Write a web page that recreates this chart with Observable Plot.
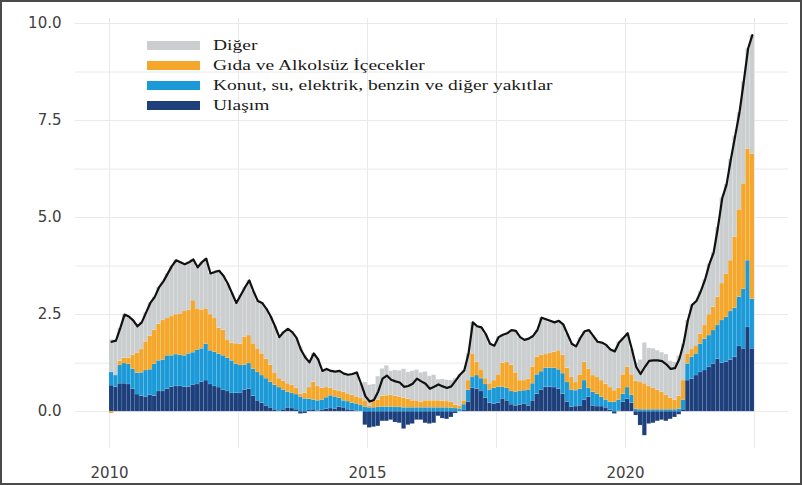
<!DOCTYPE html>
<html>
<head>
<meta charset="utf-8">
<script src="https://cdn.jsdelivr.net/npm/d3@7"></script>
<script src="https://cdn.jsdelivr.net/npm/@observablehq/plot@0.6"></script>
<style>
  html, body { margin: 0; padding: 0; background: #fff; }
  #wrap { position: relative; width: 802px; height: 485px; overflow: hidden; background: #fff; }
  #chart { position: absolute; left: 0; top: 0; }
  #frame { position: absolute; left: 0; top: 0; width: 802px; height: 485px; box-sizing: border-box; border: 2px solid #4a4a4a; pointer-events: none; }
  #legend { position: absolute; left: 147px; top: 35px; font-family: "Liberation Serif", "DejaVu Serif", serif; font-size: 15px; color: #1a1a1a; }
  .row { display: flex; align-items: center; height: 20px; }
  .key { width: 53px; height: 9px; flex: none; }
  .lab { display: inline-block; margin-left: 13px; white-space: nowrap; transform: scaleX(1.3); transform-origin: left center; }
</style>
</head>
<body>
<div id="wrap">
  <div id="chart"></div>
  <div id="legend"></div>
  <div id="frame"></div>
</div>
<script>
// Monthly contributions, Jan 2010 – Jun 2022 (one value per month)
const startYear = 2010;

const ulasim = [
  0.67, 0.63, 0.72, 0.72, 0.70, 0.58, 0.44, 0.40, 0.38, 0.42, 0.40, 0.52,
  0.52, 0.58, 0.63, 0.65, 0.65, 0.63, 0.63, 0.69, 0.70, 0.76, 0.80, 0.70,
  0.65, 0.62, 0.56, 0.52, 0.47, 0.48, 0.47, 0.56, 0.58, 0.40, 0.28, 0.22,
  0.15, 0.10, 0.05, 0.00, 0.05, 0.10, 0.08, 0.05, -0.06, -0.05, 0.03, 0.05,
  0.02, 0.03, 0.07, 0.08, 0.07, 0.12, 0.10, 0.05, 0.03, 0.02, 0.00, -0.35,
  -0.42, -0.40, -0.38, -0.25, -0.25, -0.22, -0.28, -0.30, -0.45, -0.35, -0.32, -0.22,
  -0.22, -0.30, -0.32, -0.30, -0.12, -0.18, -0.20, -0.15, -0.05, 0.00, 0.03, 0.25,
  0.60, 0.58, 0.52, 0.35, 0.22, 0.20, 0.22, 0.33, 0.28, 0.18, 0.15, 0.17,
  0.20, 0.15, 0.28, 0.45, 0.56, 0.63, 0.63, 0.62, 0.58, 0.45, 0.25, 0.12,
  0.13, 0.15, 0.30, 0.37, 0.15, 0.13, 0.13, 0.10, 0.04, -0.06, 0.02, 0.24,
  0.32, 0.22, -0.10, -0.36, -0.62, -0.32, -0.30, -0.25, -0.22, -0.25, -0.20, -0.15,
  -0.08, 0.05, 0.80, 0.84, 0.93, 1.01, 1.06, 1.14, 1.23, 1.35, 1.25, 1.28,
  1.33, 1.40, 1.68, 1.62, 2.17, 1.62
];
const konut = [
  0.34, 0.30, 0.47, 0.52, 0.52, 0.52, 0.55, 0.60, 0.68, 0.66, 0.82, 0.79,
  0.81, 0.86, 0.81, 0.82, 0.80, 0.81, 0.86, 0.83, 0.89, 0.86, 0.94, 0.87,
  0.88, 0.86, 0.88, 0.86, 0.84, 0.74, 0.72, 0.64, 0.66, 0.70, 0.73, 0.71,
  0.70, 0.66, 0.63, 0.62, 0.51, 0.40, 0.39, 0.39, 0.38, 0.33, 0.29, 0.25,
  0.26, 0.27, 0.29, 0.33, 0.31, 0.23, 0.18, 0.21, 0.19, 0.18, 0.16, 0.12,
  0.10, 0.10, 0.11, 0.12, 0.12, 0.12, 0.11, 0.11, 0.10, 0.10, 0.10, 0.10,
  0.10, 0.10, 0.10, 0.10, 0.10, 0.10, 0.10, 0.09, 0.08, 0.07, 0.15, 0.30,
  0.28, 0.35, 0.33, 0.35, 0.34, 0.40, 0.41, 0.30, 0.32, 0.34, 0.35, 0.35,
  0.34, 0.41, 0.44, 0.50, 0.47, 0.49, 0.49, 0.50, 0.50, 0.53, 0.50, 0.44,
  0.41, 0.43, 0.50, 0.23, 0.35, 0.32, 0.24, 0.20, 0.20, 0.24, 0.28, 0.21,
  0.30, 0.20, 0.06, 0.05, 0.05, 0.05, 0.05, 0.05, 0.05, 0.05, 0.05, 0.05,
  0.07, 0.25, 0.43, 0.56, 0.56, 0.73, 0.81, 0.82, 0.86, 0.87, 1.10, 1.15,
  1.25, 1.27, 1.27, 1.53, 1.72, 1.28
];
const gida = [
  -0.05, 0.00, 0.11, 0.14, 0.16, 0.35, 0.51, 0.60, 0.74, 0.87, 0.88, 0.94,
  1.02, 0.96, 1.01, 1.03, 1.07, 1.14, 1.13, 1.34, 1.06, 1.00, 0.91, 0.93,
  0.87, 0.67, 0.66, 0.47, 0.45, 0.53, 0.55, 0.72, 0.72, 0.65, 0.61, 0.56,
  0.50, 0.44, 0.32, 0.23, 0.22, 0.22, 0.21, 0.16, 0.07, 0.15, 0.30, 0.46,
  0.37, 0.30, 0.26, 0.19, 0.17, 0.17, 0.22, 0.20, 0.20, 0.18, 0.18, 0.16,
  0.05, 0.16, 0.19, 0.28, 0.29, 0.31, 0.29, 0.27, 0.25, 0.22, 0.18, 0.18,
  0.14, 0.18, 0.18, 0.18, 0.18, 0.17, 0.16, 0.15, 0.09, 0.08, 0.10, 0.25,
  0.61, 0.34, 0.23, 0.15, 0.16, 0.20, 0.32, 0.62, 0.67, 0.68, 0.50, 0.28,
  0.26, 0.28, 0.43, 0.45, 0.42, 0.35, 0.38, 0.41, 0.49, 0.47, 0.37, 0.32,
  0.21, 0.37, 0.47, 0.50, 0.43, 0.43, 0.43, 0.41, 0.38, 0.30, 0.30, 0.50,
  0.53, 0.53, 0.72, 0.70, 0.67, 0.60, 0.55, 0.50, 0.45, 0.37, 0.30, 0.25,
  0.33, 0.50, 0.26, 0.20, 0.21, 0.26, 0.35, 0.54, 0.60, 0.73, 0.95, 1.12,
  1.31, 1.83, 2.25, 2.72, 2.88, 3.74
];
const diger = [
  0.84, 0.90, 0.85, 1.12, 1.07, 0.90, 0.70, 0.70, 0.75, 0.85, 0.85, 0.95,
  1.00, 1.15, 1.30, 1.40, 1.33, 1.22, 1.23, 1.06, 1.07, 1.23, 1.29, 1.06,
  1.20, 1.48, 1.40, 1.45, 1.29, 1.05, 1.26, 1.28, 1.42, 1.35, 1.23, 1.31,
  1.30, 1.25, 1.20, 1.07, 1.27, 1.41, 1.37, 1.30, 1.21, 0.97, 0.65, 0.74,
  0.70, 0.45, 0.48, 0.45, 0.48, 0.53, 0.48, 0.49, 0.55, 0.63, 0.38, 0.47,
  0.53, 0.44, 0.60, 0.70, 0.77, 0.61, 0.66, 0.67, 0.74, 0.69, 0.76, 0.79,
  0.76, 0.74, 0.63, 0.66, 0.54, 0.56, 0.55, 0.56, 0.68, 0.80, 0.78, 0.70,
  0.81, 0.93, 1.09, 1.15, 1.03, 0.90, 0.97, 0.73, 0.75, 0.90, 1.08, 1.12,
  1.05, 1.04, 0.80, 0.70, 0.97, 0.91, 0.84, 0.77, 0.77, 0.80, 0.88, 0.87,
  0.93, 0.95, 0.80, 1.00, 1.02, 0.92, 0.98, 1.01, 0.98, 1.07, 1.18, 0.95,
  0.87, 0.65, 0.47, 0.58, 1.05, 0.98, 1.02, 1.02, 1.02, 1.05, 0.95, 0.97,
  1.03, 0.95, 0.86, 1.15, 1.15, 1.10, 1.18, 1.30, 1.41, 1.80, 2.20, 2.30,
  2.61, 2.60, 2.50, 2.63, 2.58, 3.06
];
const toplam = [
  1.80, 1.83, 2.15, 2.50, 2.45, 2.35, 2.20, 2.30, 2.55, 2.80, 2.95, 3.20,
  3.35, 3.55, 3.75, 3.90, 3.85, 3.80, 3.85, 3.92, 3.72, 3.85, 3.94, 3.56,
  3.60, 3.63, 3.50, 3.30, 3.05, 2.80, 3.00, 3.20, 3.38, 3.10, 2.85, 2.80,
  2.65, 2.45, 2.20, 1.92, 2.05, 2.13, 2.05, 1.90, 1.60, 1.40, 1.27, 1.50,
  1.35, 1.05, 1.10, 1.05, 1.03, 1.05, 0.98, 0.95, 0.97, 1.01, 0.72, 0.40,
  0.26, 0.30, 0.52, 0.85, 0.93, 0.82, 0.78, 0.75, 0.64, 0.66, 0.72, 0.85,
  0.78, 0.72, 0.59, 0.64, 0.70, 0.65, 0.61, 0.65, 0.80, 0.95, 1.06, 1.50,
  2.30, 2.20, 2.17, 2.00, 1.75, 1.70, 1.92, 1.98, 2.02, 2.10, 2.08, 1.92,
  1.85, 1.88, 1.95, 2.10, 2.42, 2.38, 2.34, 2.30, 2.34, 2.25, 2.00, 1.75,
  1.68, 1.90, 2.07, 2.10, 1.95, 1.80, 1.78, 1.72, 1.60, 1.55, 1.78, 1.90,
  2.02, 1.60, 1.15, 0.97, 1.15, 1.31, 1.32, 1.32, 1.30, 1.22, 1.10, 1.12,
  1.35, 1.75, 2.35, 2.75, 2.85, 3.10, 3.40, 3.80, 4.10, 4.75, 5.50, 5.85,
  6.50, 7.10, 7.70, 8.50, 9.35, 9.70
];

const seriesNames = [
  "Ulaşım",
  "Konut, su, elektrik, benzin ve diğer yakıtlar",
  "Gıda ve Alkolsüz İçecekler",
  "Diğer"
];
const seriesColors = ["#1d3f7c", "#1b9ad7", "#f4a72a", "#cbcecf"];
const legendOrder = ["Diğer", "Gıda ve Alkolsüz İçecekler", "Konut, su, elektrik, benzin ve diğer yakıtlar", "Ulaşım"];

const yTicks = [0, 2.5, 5, 7.5, 10];
const yGrid = [0, 1.25, 2.5, 3.75, 5, 6.25, 7.5, 8.75, 10];
const xTicks = [2010, 2015, 2020];
const xGrid = [2010, 2012.5, 2015, 2017.5, 2020, 2022.5];

// build long table for stacking
const seriesValues = [ulasim, konut, gida, diger];
const rows = [];
for (let i = 0; i < toplam.length; i++) {
  for (let s = 0; s < seriesNames.length; s++) {
    rows.push({x1: startYear + i / 12, x2: startYear + (i + 1) / 12, series: seriesNames[s], value: seriesValues[s][i]});
  }
}
const totalRows = toplam.map((v, i) => ({x: startYear + (i + 0.5) / 12, value: v}));

const chart = Plot.plot({
  width: 802,
  height: 485,
  marginLeft: 75,
  marginRight: 14,
  marginTop: 18,
  marginBottom: 37,
  style: {fontFamily: "DejaVu Sans", fontSize: "15px", color: "#404040", background: "white"},
  x: {domain: [2009.341, 2023.159], ticks: xTicks, tickFormat: d => String(d), tickSize: 0, tickPadding: 19, label: null},
  y: {domain: [-0.95, 10.13], ticks: yTicks, tickFormat: d => d.toFixed(1), tickSize: 0, tickPadding: 14, label: null},
  color: {domain: seriesNames, range: seriesColors},
  marks: [
    Plot.ruleY(yGrid, {stroke: "#e9e9e9", strokeWidth: 1}),
    Plot.ruleX(xGrid, {stroke: "#e9e9e9", strokeWidth: 1}),
    Plot.rectY(rows, {x1: "x1", x2: "x2", y: "value", fill: "series", stroke: "white", strokeOpacity: 0.18, strokeWidth: 0.5}),
    Plot.line(totalRows, {x: "x", y: "value", stroke: "#111", strokeWidth: 2.2, strokeLinejoin: "round"})
  ]
});
document.getElementById("chart").appendChild(chart);

// legend
const leg = document.getElementById("legend");
legendOrder.forEach(name => {
  const row = document.createElement("div");
  row.className = "row";
  const key = document.createElement("span");
  key.className = "key";
  key.style.background = seriesColors[seriesNames.indexOf(name)];
  const lab = document.createElement("span");
  lab.className = "lab";
  lab.textContent = name;
  row.appendChild(key);
  row.appendChild(lab);
  leg.appendChild(row);
});
</script>
</body>
</html>
